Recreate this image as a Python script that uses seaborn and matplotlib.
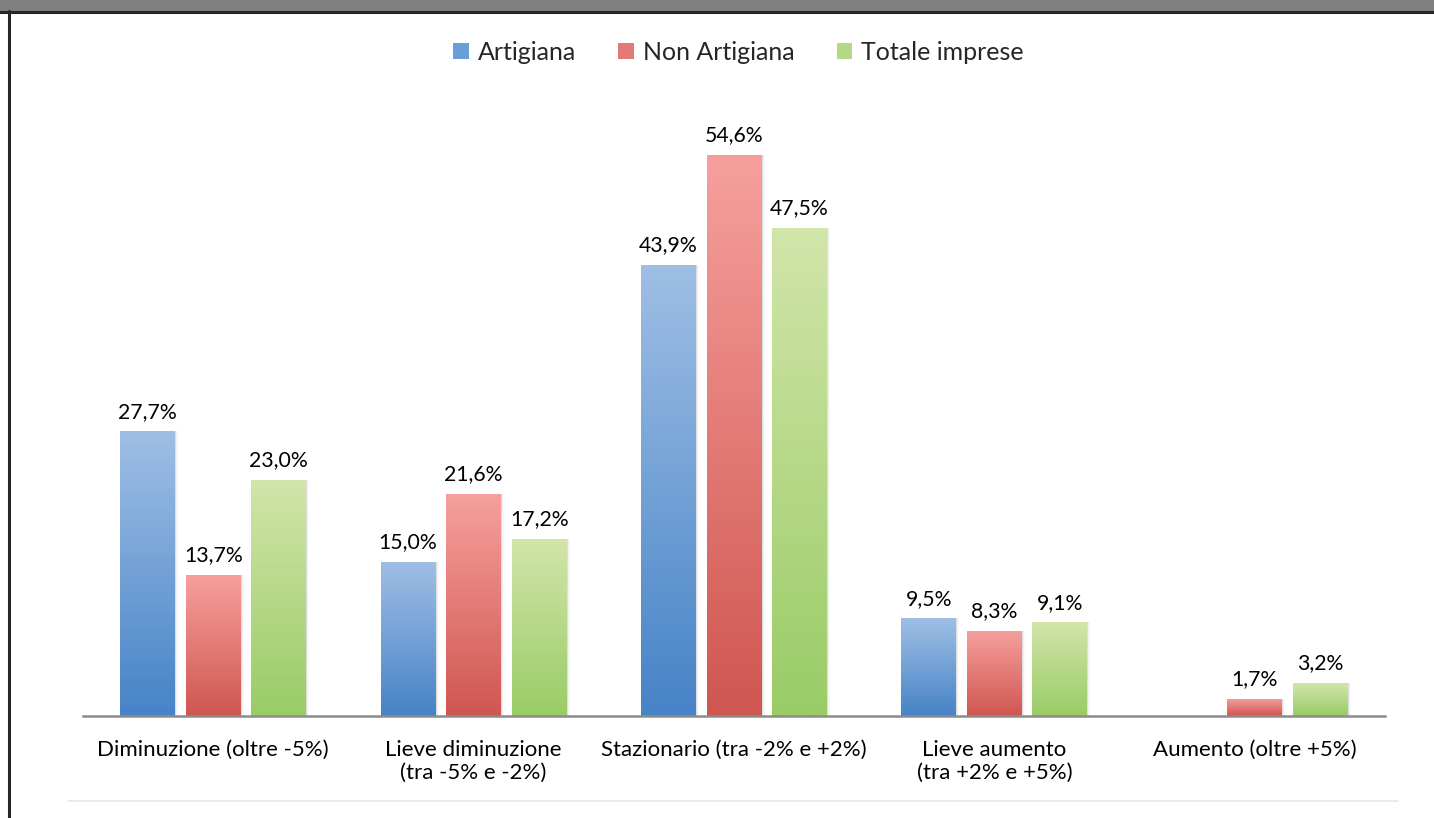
import numpy as np
import pandas as pd
import matplotlib
matplotlib.use("Agg")
import matplotlib.pyplot as plt
import seaborn as sns
from matplotlib.colors import LinearSegmentedColormap
from matplotlib.patches import Patch, Rectangle
from matplotlib.lines import Line2D

categories = [
    "Diminuzione (oltre -5%)",
    "Lieve diminuzione\n(tra -5% e -2%)",
    "Stazionario (tra -2% e +2%)",
    "Lieve aumento\n(tra +2% e +5%)",
    "Aumento (oltre +5%)",
]
series = ["Artigiana", "Non Artigiana", "Totale imprese"]
artigiana = [27.7, 15.0, 43.9, 9.5, np.nan]
non_artigiana = [13.7, 21.6, 54.6, 8.3, 1.7]
totale = [23.0, 17.2, 47.5, 9.1, 3.2]

# gradient colours per series: (top, bottom)
gradients = {
    "Artigiana": ("#9fbfe5", "#4683c7"),
    "Non Artigiana": ("#f6a09e", "#d05650"),
    "Totale imprese": ("#d2e5aa", "#99cc66"),
}
legend_colors = {"Artigiana": "#6a9ed8", "Non Artigiana": "#e27b77", "Totale imprese": "#b5d888"}

sns.set_theme(style="white")
plt.rcParams["font.family"] = ["Lato", "DejaVu Sans"]

df = pd.DataFrame({
    "categoria": categories * 3,
    "serie": [s for s in series for _ in categories],
    "valore": artigiana + non_artigiana + totale,
})

fig = plt.figure(figsize=(14.34, 8.18), dpi=100)
ax = fig.add_axes([0.0579, 0.1247, 0.9079, 0.7537])

sns.barplot(data=df.dropna(), x="categoria", y="valore", hue="serie",
            order=categories, hue_order=series, width=0.7545, gap=0.161,
            palette=legend_colors, ax=ax, legend=False, errorbar=None)

ax.set_xlim(-0.5, 4.5)
ax.set_ylim(0, 60)

# soft shadow and vertical gradient fill for each bar
for serie, container in zip(series, ax.containers):
    top, bottom = gradients[serie]
    cmap = LinearSegmentedColormap.from_list(serie, [bottom, top])
    grad = np.linspace(0, 1, 256).reshape(-1, 1)
    for bar in container:
        x0, y0 = bar.get_x(), bar.get_y()
        w, h = bar.get_width(), bar.get_height()
        if not np.isfinite(h) or h <= 0:
            continue
        for k, a in enumerate([0.07, 0.04, 0.02]):
            shadow = Rectangle((x0 + 0.004 * (k + 1), y0), w, h, facecolor="#000000",
                               alpha=a, edgecolor="none", zorder=1)
            ax.add_patch(shadow)
        bar.set_facecolor("none")
        bar.set_edgecolor("none")
        bar.set_zorder(3)
        im = ax.imshow(grad, extent=(x0, x0 + w, y0, y0 + h), origin="lower",
                       cmap=cmap, aspect="auto", zorder=2, interpolation="bilinear")
        im.set_clip_path(bar)
    vals = container.datavalues
    ax.bar_label(container, labels=[f"{v:.1f}%".replace(".", ",") for v in vals],
                 padding=7, fontsize=15.3, color="#000000")

ax.set_xlim(-0.5, 4.5)
ax.set_ylim(0, 60)

ax.set_xlabel("")
ax.set_ylabel("")
ax.set_yticks([])
ax.tick_params(axis="x", length=0, pad=17, labelsize=16, labelcolor="#000000")
for s in ["top", "right", "left"]:
    ax.spines[s].set_visible(False)
ax.spines["bottom"].set_color("#8c8c8c")
ax.spines["bottom"].set_linewidth(1.8)

handles = [Patch(facecolor=legend_colors[s], edgecolor="none") for s in series]
fig.legend(handles, series, loc="center", bbox_to_anchor=(0.515, 0.936), ncol=3,
           frameon=False, fontsize=18, handlelength=0.62, handleheight=0.62,
           handletextpad=0.35, columnspacing=1.7)

# page frame: grey band at the top, dark rules, light rule under the labels
fig.patches.append(Rectangle((0, 1 - 11 / 818), 1, 11 / 818, transform=fig.transFigure,
                             facecolor="#808083", edgecolor="none", zorder=0))
fig.lines.append(Line2D([0, 1], [1 - 12 / 818, 1 - 12 / 818], transform=fig.transFigure,
                        color="#262626", linewidth=2.2))
fig.lines.append(Line2D([9 / 1434, 9 / 1434], [0, 1 - 11 / 818], transform=fig.transFigure,
                        color="#262626", linewidth=2.2))
fig.lines.append(Line2D([68 / 1434, 1398 / 1434], [1 - 801 / 818, 1 - 801 / 818],
                        transform=fig.transFigure, color="#e6e6e6", linewidth=1.2))

fig.savefig("out.png", dpi=100, facecolor="white")
